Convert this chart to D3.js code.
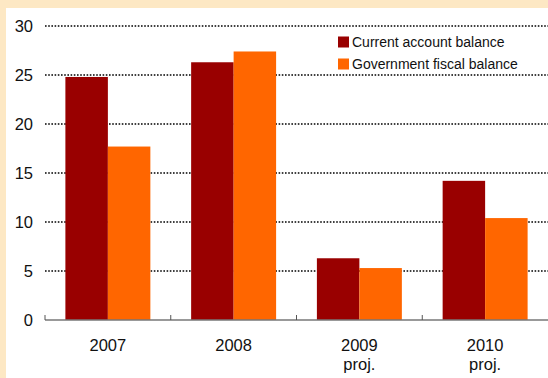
<!DOCTYPE html>
<html>
<head>
<meta charset="utf-8">
<script src="https://cdn.jsdelivr.net/npm/d3@7"></script>
<style>
  body { margin: 0; background: #fde8c4; }
  svg { display: block; }
</style>
</head>
<body>
<script>
// data
var years = ["2007", "2008", "2009", "2010"];
var yearNotes = ["", "", "proj.", "proj."];
var currentAccount = [24.8, 26.3, 6.3, 14.2];
var fiscalBalance = [17.7, 27.4, 5.3, 10.4];
var seriesNames = ["Current account balance", "Government fiscal balance"];
var seriesColors = ["#990000", "#ff6600"];
var yTicks = [0, 5, 10, 15, 20, 25, 30];

var width = 548, height = 378;
// plot edges (window.top is reserved, so own names here)
var plotLeft = 45, plotRight = 548, plotTop = 26, plotBottom = 320;

var svg = d3.select("body").append("svg")
    .attr("width", width)
    .attr("height", height);

// white panel on the peach background
svg.append("rect")
    .attr("x", 6).attr("y", 8)
    .attr("width", width - 6).attr("height", height - 8)
    .attr("fill", "white");

var x = d3.scaleBand().domain(years).range([plotLeft, plotRight]).paddingInner(0).paddingOuter(0);
var x1 = d3.scaleBand().domain(seriesNames).range([0, x.bandwidth()]).paddingInner(0).paddingOuter(0.48);
var y = d3.scaleLinear().domain([0, 30]).range([plotBottom, plotTop]);

// dotted gridlines
svg.selectAll("line.grid")
    .data(yTicks.filter(function(d) { return d > 0; }))
    .enter().append("line")
    .attr("class", "grid")
    .attr("x1", plotLeft).attr("x2", plotRight)
    .attr("y1", function(d) { return y(d); })
    .attr("y2", function(d) { return y(d); })
    .attr("stroke", "black")
    .attr("stroke-width", 1.4)
    .attr("stroke-dasharray", "1.6,1.6");

// y labels
svg.selectAll("text.ylab")
    .data(yTicks)
    .enter().append("text")
    .attr("class", "ylab")
    .attr("x", 33)
    .attr("y", function(d) { return y(d); })
    .attr("dy", "0.36em")
    .attr("text-anchor", "end")
    .attr("font-family", "Liberation Sans, Arial, sans-serif")
    .attr("font-size", "16.5px")
    .attr("fill", "#111")
    .text(function(d) { return d; });

// bars
var rows = years.map(function(yr, i) {
  return { year: yr, values: [currentAccount[i], fiscalBalance[i]] };
});

var groups = svg.selectAll("g.year")
    .data(rows)
    .enter().append("g")
    .attr("class", "year")
    .attr("transform", function(d) { return "translate(" + x(d.year) + ",0)"; });

groups.selectAll("rect")
    .data(function(d) {
      return d.values.map(function(v, j) { return { name: seriesNames[j], value: v, color: seriesColors[j] }; });
    })
    .enter().append("rect")
    .attr("x", function(d) { return x1(d.name); })
    .attr("width", x1.bandwidth())
    .attr("y", function(d) { return y(d.value); })
    .attr("height", function(d) { return y(0) - y(d.value); })
    .attr("fill", function(d) { return d.color; });

// x axis line and ticks
svg.append("line")
    .attr("x1", plotLeft).attr("x2", plotRight)
    .attr("y1", plotBottom).attr("y2", plotBottom)
    .attr("stroke", "#777").attr("stroke-width", 1.5);

svg.selectAll("line.xtick")
    .data(years)
    .enter().append("line")
    .attr("class", "xtick")
    .attr("x1", function(d) { return x(d); })
    .attr("x2", function(d) { return x(d); })
    .attr("y1", plotBottom - 5).attr("y2", plotBottom)
    .attr("stroke", "#555").attr("stroke-width", 1);

// x labels
svg.selectAll("text.xlab")
    .data(years)
    .enter().append("text")
    .attr("class", "xlab")
    .attr("x", function(d) { return x(d) + x.bandwidth() / 2; })
    .attr("y", 351)
    .attr("text-anchor", "middle")
    .attr("font-family", "Liberation Sans, Arial, sans-serif")
    .attr("font-size", "16.5px")
    .attr("fill", "#111")
    .text(function(d) { return d; });

svg.selectAll("text.xnote")
    .data(years)
    .enter().append("text")
    .attr("class", "xnote")
    .attr("x", function(d) { return x(d) + x.bandwidth() / 2; })
    .attr("y", 370)
    .attr("text-anchor", "middle")
    .attr("font-family", "Liberation Sans, Arial, sans-serif")
    .attr("font-size", "16.5px")
    .attr("fill", "#111")
    .text(function(d, i) { return yearNotes[i]; });

// legend
var legend = svg.selectAll("g.legend")
    .data(seriesNames)
    .enter().append("g")
    .attr("class", "legend")
    .attr("transform", function(d, i) { return "translate(338," + (42 + i * 22) + ")"; });

legend.append("rect")
    .attr("x", 0).attr("y", -5.5)
    .attr("width", 11).attr("height", 11)
    .attr("fill", function(d, i) { return seriesColors[i]; });

legend.append("text")
    .attr("x", 14)
    .attr("dy", "0.36em")
    .attr("font-family", "Liberation Sans, Arial, sans-serif")
    .attr("font-size", "14px")
    .attr("fill", "#111")
    .text(function(d) { return d; });
</script>
</body>
</html>
